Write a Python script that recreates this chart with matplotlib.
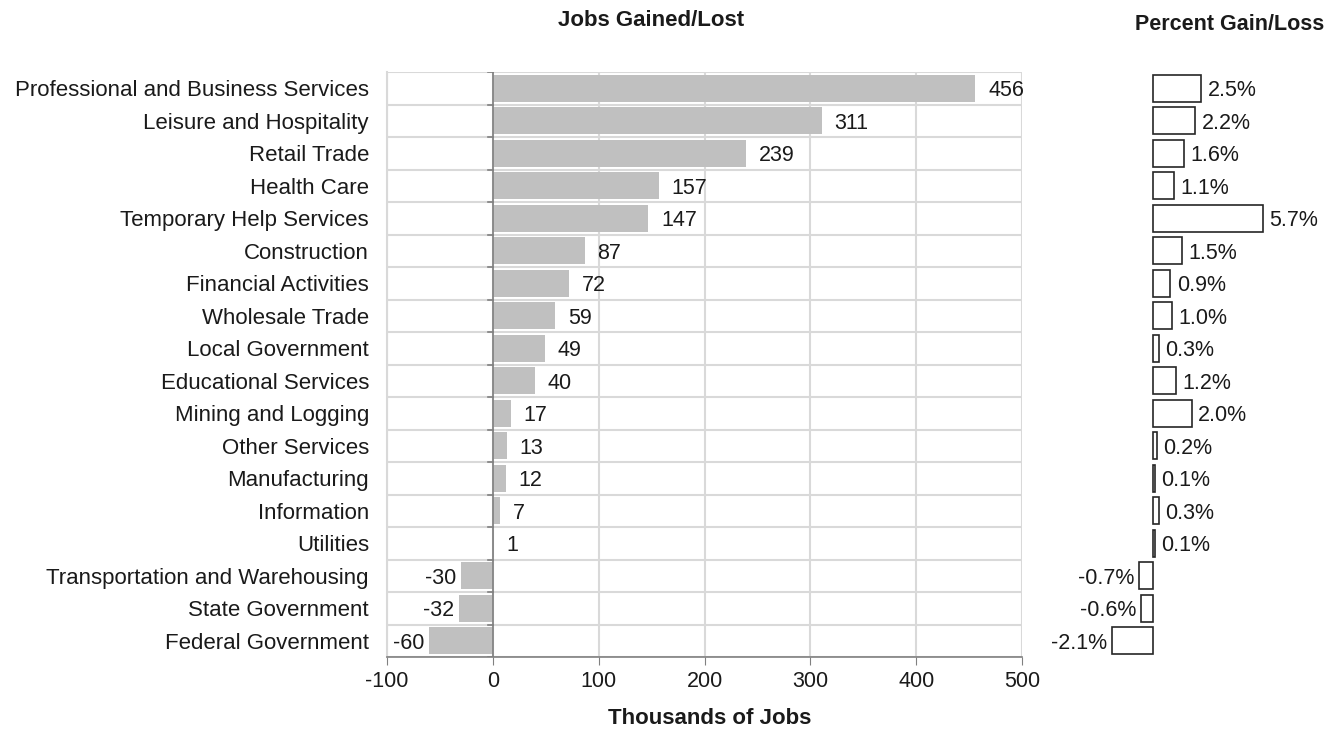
import matplotlib.pyplot as plt
import numpy as np

plt.rcParams["font.family"] = ["Liberation Sans", "DejaVu Sans"]

industries = [
    "Professional and Business Services", "Leisure and Hospitality", "Retail Trade",
    "Health Care", "Temporary Help Services", "Construction", "Financial Activities",
    "Wholesale Trade", "Local Government", "Educational Services", "Mining and Logging",
    "Other Services", "Manufacturing", "Information", "Utilities",
    "Transportation and Warehousing", "State Government", "Federal Government",
]
jobs = [456, 311, 239, 157, 147, 87, 72, 59, 49, 40, 17, 13, 12, 7, 1, -30, -32, -60]
pct = [2.5, 2.2, 1.6, 1.1, 5.7, 1.5, 0.9, 1.0, 0.3, 1.2, 2.0, 0.2, 0.1, 0.3, 0.1, -0.7, -0.6, -2.1]
x_ticks = [-100, 0, 100, 200, 300, 400, 500]

W, H = 1343, 734
fig = plt.figure(figsize=(W / 100, H / 100), dpi=100)


def px_axes(x0, y0, x1, y1):
    return fig.add_axes([x0 / W, 1 - y1 / H, (x1 - x0) / W, (y1 - y0) / H])


n = len(industries)
y = np.arange(n)
grid_c = "#d9d9d9"
text_c = "#1a1a1a"
fs = 15.5

# main chart
ax = px_axes(387, 72, 1022, 657)
ax.barh(y, jobs, height=0.84, color="#c0c0c0", zorder=2)
ax.set_xlim(-100, 500)
ax.set_ylim(n - 0.5, -0.5)
ax.set_xticks(x_ticks)
ax.set_xticklabels([str(t) for t in x_ticks])
ax.tick_params(axis="x", direction="out", length=6, color="#808080", labelsize=fs,
               labelcolor=text_c, pad=4)
ax.set_yticks(y)
ax.set_yticklabels(industries, fontsize=16, color=text_c, va="center_baseline")
ax.tick_params(axis="y", length=0, pad=13)
for b in np.arange(n + 1) - 0.5:
    ax.axhline(b, color=grid_c, lw=1.5, zorder=1)
for v in x_ticks:
    ax.axvline(v, color=grid_c, lw=1.5, zorder=1)
ax.axvline(0, color="#808080", lw=1.2, zorder=3)
for b in np.arange(n + 1) - 0.5:
    ax.plot([-5, 0], [b, b], color="#808080", lw=1.2, zorder=3)
for s in ["top", "right"]:
    ax.spines[s].set_visible(False)
ax.spines["left"].set_color(grid_c)
ax.spines["left"].set_linewidth(1.5)
ax.spines["bottom"].set_color("#808080")
ax.spines["bottom"].set_linewidth(1.2)
for yi, v in zip(y, jobs):
    if v >= 0:
        ax.text(v + 12, yi, f"{v}", va="center_baseline", ha="left", fontsize=fs,
                color=text_c, zorder=4)
    else:
        ax.text(v - 5, yi, f"{v}", va="center_baseline", ha="right", fontsize=fs,
                color=text_c, zorder=4)

fig.text(651 / W, 1 - 20 / H, "Jobs Gained/Lost", ha="center", va="center",
         fontsize=16, fontweight="bold", color=text_c)
fig.text(710 / W, 1 - 718 / H, "Thousands of Jobs", ha="center", va="center",
         fontsize=16, fontweight="bold", color=text_c)

# percent chart
ax2 = px_axes(1100, 72, 1300, 657)
ax2.barh(y, pct, height=0.82, color="white", edgecolor="#262626", linewidth=1.2)
ax2.set_xlim(-53 / 19.3, 147 / 19.3)
ax2.set_ylim(n - 0.5, -0.5)
ax2.axis("off")
for yi, v in zip(y, pct):
    if v >= 0:
        ax2.text(v + 0.33, yi, f"{v:.1f}%", va="center_baseline", ha="left", fontsize=fs,
                 color=text_c)
    else:
        ax2.text(v - 0.28, yi, f"{v:.1f}%", va="center_baseline", ha="right", fontsize=fs,
                 color=text_c)

fig.text(1230 / W, 1 - 25 / H, "Percent Gain/Loss", ha="center", va="center",
         fontsize=15.5, fontweight="bold", color=text_c)

fig.savefig("out.png", dpi=100)
